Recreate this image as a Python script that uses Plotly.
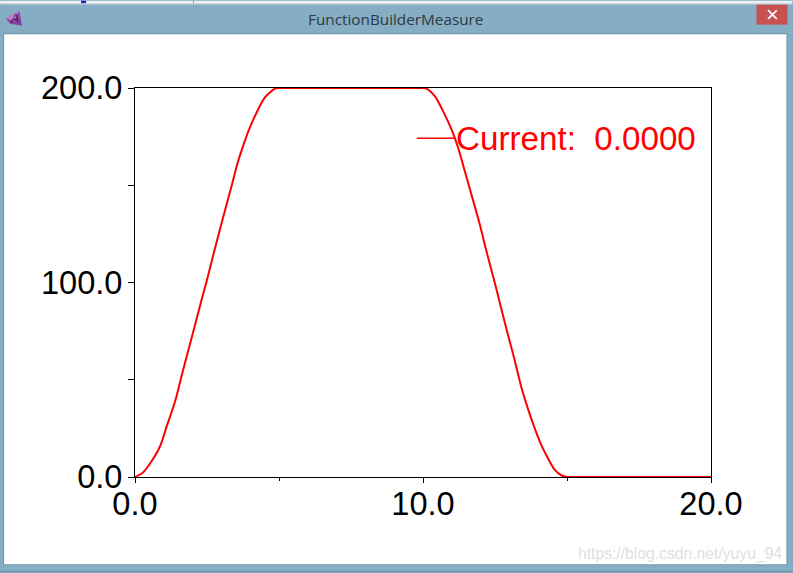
import plotly.graph_objects as go

time_s = [0, 0.29, 0.58, 0.87, 1.10, 1.39, 1.67, 2.02, 2.31, 2.49, 2.78, 3.07, 3.36, 3.55, 3.76, 3.99,
          4.22, 4.51, 4.86, 4.95, 5.3, 9.7, 10.0, 10.12, 10.41, 10.70, 10.99, 11.22, 11.45, 11.68, 11.97, 12.20,
          12.49, 12.72, 12.95, 13.18, 13.41, 13.64, 13.88, 14.11, 14.34, 14.57, 14.80, 15.0, 15.3, 20.0]
current = [0, 2.5, 8.2, 15.8, 26, 38.8, 55, 74.6, 91, 100.8, 117.7, 134.1, 150, 160.8, 170.5, 179.7,
           187.3, 195.2, 199.7, 200, 200, 200, 200, 199.7, 195.8, 188, 178.7, 169.3, 157.3, 145.3, 130, 116.3,
           100, 86.4, 73.1, 60.3, 46.4, 35.3, 25, 16.4, 9.6, 3.8, 0.9, 0, 0, 0]
series_name = "Current:\u00a0\u00a00.0000"
window_title = "FunctionBuilderMeasure"
watermark = "https://blog.csdn.net/yuyu_94"
x_major = [0, 10, 20]
x_minor = [5, 15]
y_major = [0, 100, 200]
y_minor = [50, 150]

W, H = 793, 573
L, R, T, B = 135.0, 711.5, 87.5, 477.5
px = lambda v: (v - L) / (R - L)
py = lambda v: (B - v) / (B - T)

def rect(x0, y0, x1, y1, fill):
    return dict(type="rect", xref="paper", yref="paper", layer="below",
                x0=px(x0), x1=px(x1), y0=py(y0), y1=py(y1),
                fillcolor=fill, line=dict(width=0))

def poly(points, fill):
    d = "M " + " L ".join(f"{px(a):.5f},{py(b):.5f}" for a, b in points) + " Z"
    return dict(type="path", xref="paper", yref="paper", layer="below", path=d,
                fillcolor=fill, line=dict(width=0))

def label(text, x, y, family, size, color, xanchor="center", **font_extra):
    return dict(text=text, xref="paper", yref="paper", x=px(x), y=py(y), xanchor=xanchor, yanchor="middle",
                showarrow=False, borderpad=0, font=dict(family=family, size=size, color=color, **font_extra))

fig = go.Figure(go.Scatter(x=time_s, y=current, mode="lines", name=series_name,
                           line=dict(color="#ff0000", width=2, shape="spline", smoothing=0.8),
                           cliponaxis=False, showlegend=False))

shapes = [
    rect(0, 0, W, 3, "#eef0f3"),
    rect(0, 3, W, 4, "#b9c3cc"),
    rect(193, 0, 194, 3, "#9a9a9a"),
    rect(81, 0, 86, 2.5, "#2020c8"),
    rect(3, 32.5, 788, 566, "#6f93a8"),
    rect(4, 33.5, 787, 565, "#ffffff"),
    rect(0, 571.5, W, H, "#6f93a8"),
    rect(757, 4, 788, 24, "#c75050"),
    poly([(6, 18), (19, 10), (22, 25), (10, 23)], "#8d3fa6"),
    poly([(6, 18), (19, 10), (14, 20)], "#c07ed0"),
    dict(type="line", xref="paper", yref="paper", x0=px(417), x1=px(456), y0=py(138), y1=py(138),
         line=dict(color="#ff0000", width=1.5)),
]

annotations = [
    label(window_title, 396, 18.5, "Open Sans", 15.3, "#2f3a42"),
    label("\u00d7", 773, 14, "Liberation Sans", 22, "#ffffff"),
    label("A", 14.5, 18, "Liberation Sans", 12, "#3a1f45", style="italic"),
    label(watermark, 784, 555, "Liberation Sans", 15.7, "rgba(195,195,195,0.55)", xanchor="right"),
    label(series_name, 455.5, 138, "Liberation Sans", 33.2, "#ff0000", xanchor="left"),
]

fig.update_layout(
    width=W, height=H, autosize=False,
    margin=dict(l=L, r=W - R, t=T, b=H - B, pad=0),
    paper_bgcolor="#85aec4", plot_bgcolor="rgba(0,0,0,0)",
    font=dict(family="Liberation Sans", color="#000000", size=32.6),
    shapes=shapes, annotations=annotations, showlegend=False,
)
fig.update_xaxes(range=[0, 20], tickvals=x_major, ticktext=[f"{v:.1f}" for v in x_major],
                 ticks="outside", ticklen=5, tickwidth=1, tickcolor="#000", showgrid=False, zeroline=False,
                 showline=True, linecolor="#000", linewidth=1, mirror=True, ticklabelstandoff=-7,
                 minor=dict(tickvals=x_minor, ticks="outside", ticklen=3, tickwidth=1, tickcolor="#000", showgrid=False))
fig.update_yaxes(range=[0, 200], tickvals=y_major, ticktext=[f"{v:.1f}" for v in y_major],
                 ticks="outside", ticklen=6, tickwidth=1, tickcolor="#000", showgrid=False, zeroline=False,
                 showline=True, linecolor="#000", linewidth=1, mirror=True, ticklabelstandoff=-1,
                 minor=dict(tickvals=y_minor, ticks="outside", ticklen=6, tickwidth=1, tickcolor="#000", showgrid=False))

fig.write_html("out.html", config=dict(displayModeBar=False),
               post_script="document.body.style.margin='0';document.body.style.overflow='hidden';")
